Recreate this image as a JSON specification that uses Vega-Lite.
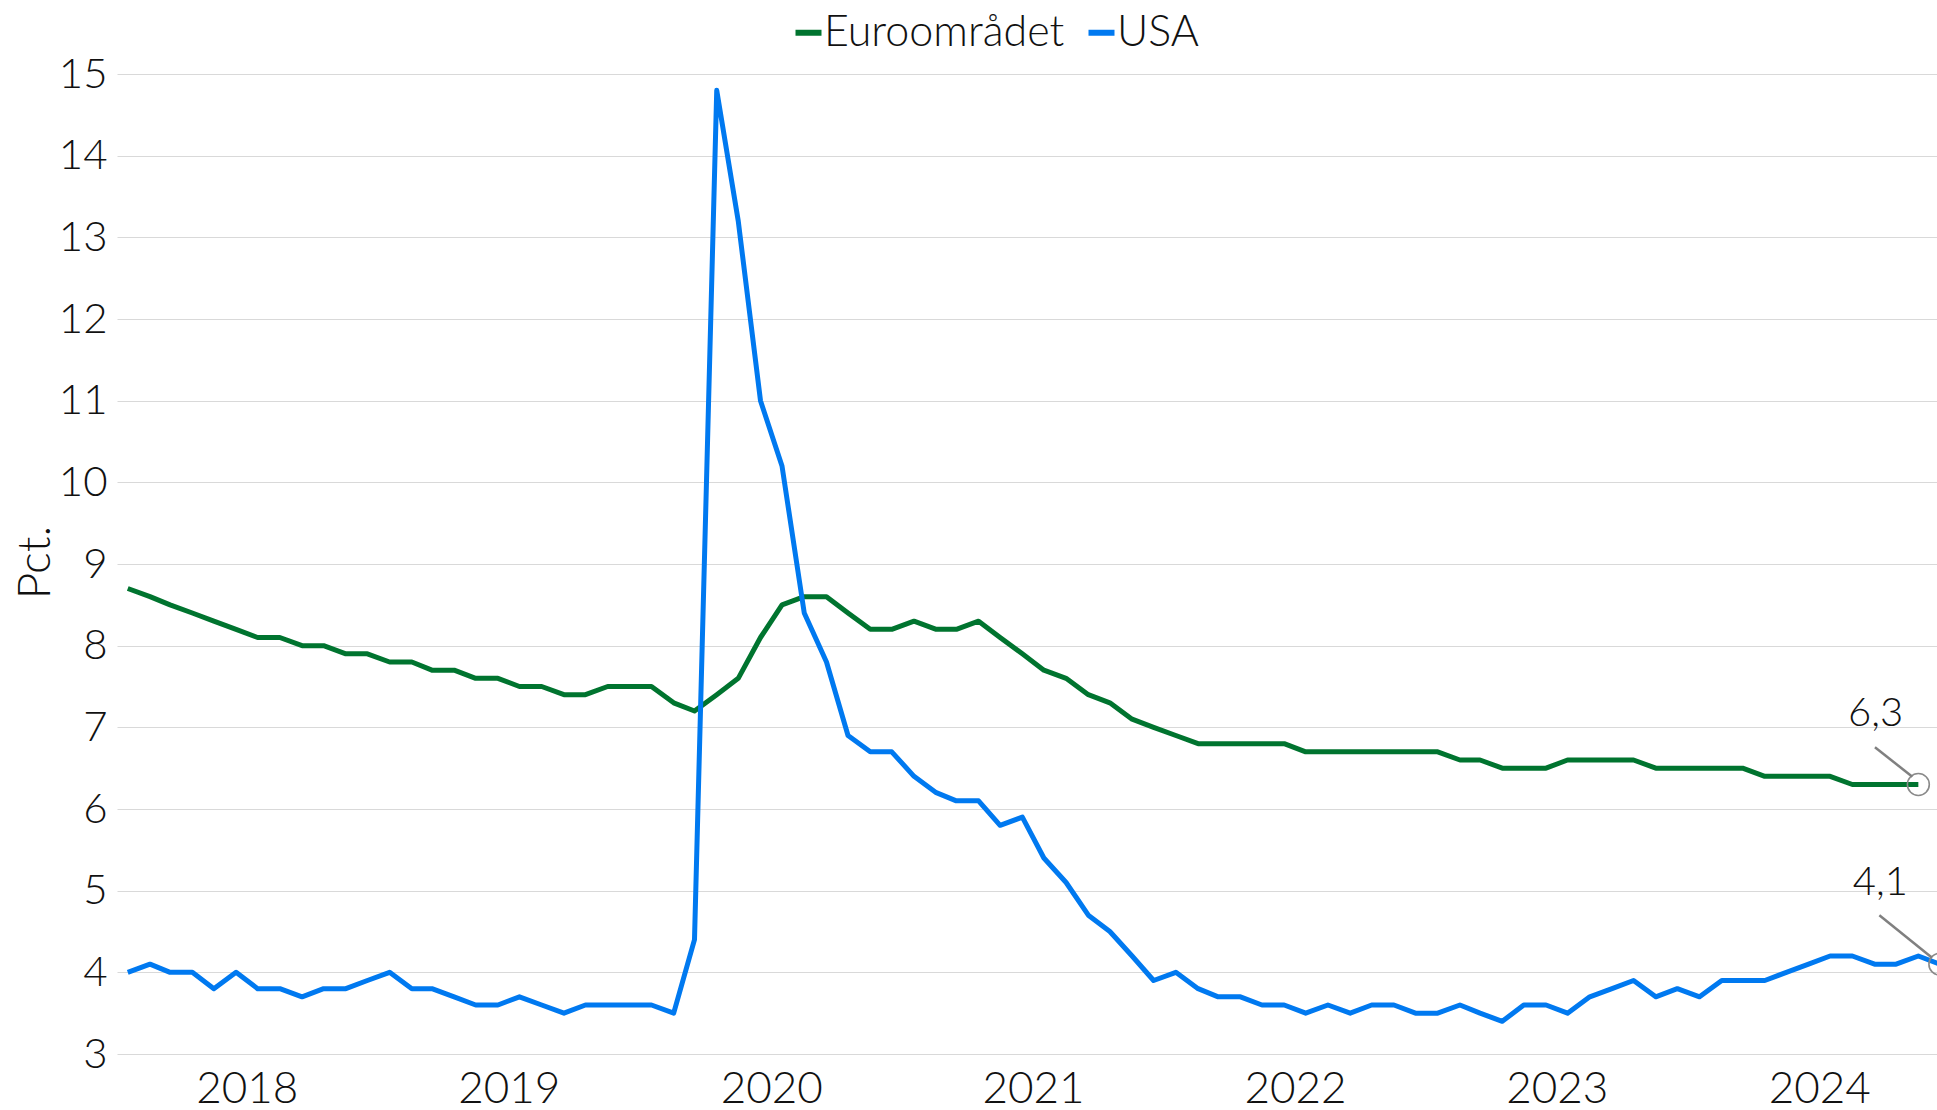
{
  "$schema": "https://vega.github.io/schema/vega-lite/v6.json",
  "autosize": {"type": "none"},
  "padding": {"left": 117, "top": 74, "right": 0, "bottom": 56},
  "width": 1820,
  "height": 980,
  "background": "white",
  "config": {
    "view": {"stroke": null},
    "font": "Lato",
    "locale": {"number": {"decimal": ",", "thousands": ".", "grouping": [3], "currency": ["", " kr."]}}
  },
  "datasets": {
    "rates": [
      {"date": "2018-01-01", "series": "Euroområdet", "value": 8.7},
      {"date": "2018-02-01", "series": "Euroområdet", "value": 8.6},
      {"date": "2018-03-01", "series": "Euroområdet", "value": 8.5},
      {"date": "2018-04-01", "series": "Euroområdet", "value": 8.4},
      {"date": "2018-05-01", "series": "Euroområdet", "value": 8.3},
      {"date": "2018-06-01", "series": "Euroområdet", "value": 8.2},
      {"date": "2018-07-01", "series": "Euroområdet", "value": 8.1},
      {"date": "2018-08-01", "series": "Euroområdet", "value": 8.1},
      {"date": "2018-09-01", "series": "Euroområdet", "value": 8.0},
      {"date": "2018-10-01", "series": "Euroområdet", "value": 8.0},
      {"date": "2018-11-01", "series": "Euroområdet", "value": 7.9},
      {"date": "2018-12-01", "series": "Euroområdet", "value": 7.9},
      {"date": "2019-01-01", "series": "Euroområdet", "value": 7.8},
      {"date": "2019-02-01", "series": "Euroområdet", "value": 7.8},
      {"date": "2019-03-01", "series": "Euroområdet", "value": 7.7},
      {"date": "2019-04-01", "series": "Euroområdet", "value": 7.7},
      {"date": "2019-05-01", "series": "Euroområdet", "value": 7.6},
      {"date": "2019-06-01", "series": "Euroområdet", "value": 7.6},
      {"date": "2019-07-01", "series": "Euroområdet", "value": 7.5},
      {"date": "2019-08-01", "series": "Euroområdet", "value": 7.5},
      {"date": "2019-09-01", "series": "Euroområdet", "value": 7.4},
      {"date": "2019-10-01", "series": "Euroområdet", "value": 7.4},
      {"date": "2019-11-01", "series": "Euroområdet", "value": 7.5},
      {"date": "2019-12-01", "series": "Euroområdet", "value": 7.5},
      {"date": "2020-01-01", "series": "Euroområdet", "value": 7.5},
      {"date": "2020-02-01", "series": "Euroområdet", "value": 7.3},
      {"date": "2020-03-01", "series": "Euroområdet", "value": 7.2},
      {"date": "2020-04-01", "series": "Euroområdet", "value": 7.4},
      {"date": "2020-05-01", "series": "Euroområdet", "value": 7.6},
      {"date": "2020-06-01", "series": "Euroområdet", "value": 8.1},
      {"date": "2020-07-01", "series": "Euroområdet", "value": 8.5},
      {"date": "2020-08-01", "series": "Euroområdet", "value": 8.6},
      {"date": "2020-09-01", "series": "Euroområdet", "value": 8.6},
      {"date": "2020-10-01", "series": "Euroområdet", "value": 8.4},
      {"date": "2020-11-01", "series": "Euroområdet", "value": 8.2},
      {"date": "2020-12-01", "series": "Euroområdet", "value": 8.2},
      {"date": "2021-01-01", "series": "Euroområdet", "value": 8.3},
      {"date": "2021-02-01", "series": "Euroområdet", "value": 8.2},
      {"date": "2021-03-01", "series": "Euroområdet", "value": 8.2},
      {"date": "2021-04-01", "series": "Euroområdet", "value": 8.3},
      {"date": "2021-05-01", "series": "Euroområdet", "value": 8.1},
      {"date": "2021-06-01", "series": "Euroområdet", "value": 7.9},
      {"date": "2021-07-01", "series": "Euroområdet", "value": 7.7},
      {"date": "2021-08-01", "series": "Euroområdet", "value": 7.6},
      {"date": "2021-09-01", "series": "Euroområdet", "value": 7.4},
      {"date": "2021-10-01", "series": "Euroområdet", "value": 7.3},
      {"date": "2021-11-01", "series": "Euroområdet", "value": 7.1},
      {"date": "2021-12-01", "series": "Euroområdet", "value": 7.0},
      {"date": "2022-01-01", "series": "Euroområdet", "value": 6.9},
      {"date": "2022-02-01", "series": "Euroområdet", "value": 6.8},
      {"date": "2022-03-01", "series": "Euroområdet", "value": 6.8},
      {"date": "2022-04-01", "series": "Euroområdet", "value": 6.8},
      {"date": "2022-05-01", "series": "Euroområdet", "value": 6.8},
      {"date": "2022-06-01", "series": "Euroområdet", "value": 6.8},
      {"date": "2022-07-01", "series": "Euroområdet", "value": 6.7},
      {"date": "2022-08-01", "series": "Euroområdet", "value": 6.7},
      {"date": "2022-09-01", "series": "Euroområdet", "value": 6.7},
      {"date": "2022-10-01", "series": "Euroområdet", "value": 6.7},
      {"date": "2022-11-01", "series": "Euroområdet", "value": 6.7},
      {"date": "2022-12-01", "series": "Euroområdet", "value": 6.7},
      {"date": "2023-01-01", "series": "Euroområdet", "value": 6.7},
      {"date": "2023-02-01", "series": "Euroområdet", "value": 6.6},
      {"date": "2023-03-01", "series": "Euroområdet", "value": 6.6},
      {"date": "2023-04-01", "series": "Euroområdet", "value": 6.5},
      {"date": "2023-05-01", "series": "Euroområdet", "value": 6.5},
      {"date": "2023-06-01", "series": "Euroområdet", "value": 6.5},
      {"date": "2023-07-01", "series": "Euroområdet", "value": 6.6},
      {"date": "2023-08-01", "series": "Euroområdet", "value": 6.6},
      {"date": "2023-09-01", "series": "Euroområdet", "value": 6.6},
      {"date": "2023-10-01", "series": "Euroområdet", "value": 6.6},
      {"date": "2023-11-01", "series": "Euroområdet", "value": 6.5},
      {"date": "2023-12-01", "series": "Euroområdet", "value": 6.5},
      {"date": "2024-01-01", "series": "Euroområdet", "value": 6.5},
      {"date": "2024-02-01", "series": "Euroområdet", "value": 6.5},
      {"date": "2024-03-01", "series": "Euroområdet", "value": 6.5},
      {"date": "2024-04-01", "series": "Euroområdet", "value": 6.4},
      {"date": "2024-05-01", "series": "Euroområdet", "value": 6.4},
      {"date": "2024-06-01", "series": "Euroområdet", "value": 6.4},
      {"date": "2024-07-01", "series": "Euroområdet", "value": 6.4},
      {"date": "2024-08-01", "series": "Euroområdet", "value": 6.3},
      {"date": "2024-09-01", "series": "Euroområdet", "value": 6.3},
      {"date": "2024-10-01", "series": "Euroområdet", "value": 6.3},
      {"date": "2024-11-01", "series": "Euroområdet", "value": 6.3},
      {"date": "2018-01-01", "series": "USA", "value": 4.0},
      {"date": "2018-02-01", "series": "USA", "value": 4.1},
      {"date": "2018-03-01", "series": "USA", "value": 4.0},
      {"date": "2018-04-01", "series": "USA", "value": 4.0},
      {"date": "2018-05-01", "series": "USA", "value": 3.8},
      {"date": "2018-06-01", "series": "USA", "value": 4.0},
      {"date": "2018-07-01", "series": "USA", "value": 3.8},
      {"date": "2018-08-01", "series": "USA", "value": 3.8},
      {"date": "2018-09-01", "series": "USA", "value": 3.7},
      {"date": "2018-10-01", "series": "USA", "value": 3.8},
      {"date": "2018-11-01", "series": "USA", "value": 3.8},
      {"date": "2018-12-01", "series": "USA", "value": 3.9},
      {"date": "2019-01-01", "series": "USA", "value": 4.0},
      {"date": "2019-02-01", "series": "USA", "value": 3.8},
      {"date": "2019-03-01", "series": "USA", "value": 3.8},
      {"date": "2019-04-01", "series": "USA", "value": 3.7},
      {"date": "2019-05-01", "series": "USA", "value": 3.6},
      {"date": "2019-06-01", "series": "USA", "value": 3.6},
      {"date": "2019-07-01", "series": "USA", "value": 3.7},
      {"date": "2019-08-01", "series": "USA", "value": 3.6},
      {"date": "2019-09-01", "series": "USA", "value": 3.5},
      {"date": "2019-10-01", "series": "USA", "value": 3.6},
      {"date": "2019-11-01", "series": "USA", "value": 3.6},
      {"date": "2019-12-01", "series": "USA", "value": 3.6},
      {"date": "2020-01-01", "series": "USA", "value": 3.6},
      {"date": "2020-02-01", "series": "USA", "value": 3.5},
      {"date": "2020-03-01", "series": "USA", "value": 4.4},
      {"date": "2020-04-01", "series": "USA", "value": 14.8},
      {"date": "2020-05-01", "series": "USA", "value": 13.2},
      {"date": "2020-06-01", "series": "USA", "value": 11.0},
      {"date": "2020-07-01", "series": "USA", "value": 10.2},
      {"date": "2020-08-01", "series": "USA", "value": 8.4},
      {"date": "2020-09-01", "series": "USA", "value": 7.8},
      {"date": "2020-10-01", "series": "USA", "value": 6.9},
      {"date": "2020-11-01", "series": "USA", "value": 6.7},
      {"date": "2020-12-01", "series": "USA", "value": 6.7},
      {"date": "2021-01-01", "series": "USA", "value": 6.4},
      {"date": "2021-02-01", "series": "USA", "value": 6.2},
      {"date": "2021-03-01", "series": "USA", "value": 6.1},
      {"date": "2021-04-01", "series": "USA", "value": 6.1},
      {"date": "2021-05-01", "series": "USA", "value": 5.8},
      {"date": "2021-06-01", "series": "USA", "value": 5.9},
      {"date": "2021-07-01", "series": "USA", "value": 5.4},
      {"date": "2021-08-01", "series": "USA", "value": 5.1},
      {"date": "2021-09-01", "series": "USA", "value": 4.7},
      {"date": "2021-10-01", "series": "USA", "value": 4.5},
      {"date": "2021-11-01", "series": "USA", "value": 4.2},
      {"date": "2021-12-01", "series": "USA", "value": 3.9},
      {"date": "2022-01-01", "series": "USA", "value": 4.0},
      {"date": "2022-02-01", "series": "USA", "value": 3.8},
      {"date": "2022-03-01", "series": "USA", "value": 3.7},
      {"date": "2022-04-01", "series": "USA", "value": 3.7},
      {"date": "2022-05-01", "series": "USA", "value": 3.6},
      {"date": "2022-06-01", "series": "USA", "value": 3.6},
      {"date": "2022-07-01", "series": "USA", "value": 3.5},
      {"date": "2022-08-01", "series": "USA", "value": 3.6},
      {"date": "2022-09-01", "series": "USA", "value": 3.5},
      {"date": "2022-10-01", "series": "USA", "value": 3.6},
      {"date": "2022-11-01", "series": "USA", "value": 3.6},
      {"date": "2022-12-01", "series": "USA", "value": 3.5},
      {"date": "2023-01-01", "series": "USA", "value": 3.5},
      {"date": "2023-02-01", "series": "USA", "value": 3.6},
      {"date": "2023-03-01", "series": "USA", "value": 3.5},
      {"date": "2023-04-01", "series": "USA", "value": 3.4},
      {"date": "2023-05-01", "series": "USA", "value": 3.6},
      {"date": "2023-06-01", "series": "USA", "value": 3.6},
      {"date": "2023-07-01", "series": "USA", "value": 3.5},
      {"date": "2023-08-01", "series": "USA", "value": 3.7},
      {"date": "2023-09-01", "series": "USA", "value": 3.8},
      {"date": "2023-10-01", "series": "USA", "value": 3.9},
      {"date": "2023-11-01", "series": "USA", "value": 3.7},
      {"date": "2023-12-01", "series": "USA", "value": 3.8},
      {"date": "2024-01-01", "series": "USA", "value": 3.7},
      {"date": "2024-02-01", "series": "USA", "value": 3.9},
      {"date": "2024-03-01", "series": "USA", "value": 3.9},
      {"date": "2024-04-01", "series": "USA", "value": 3.9},
      {"date": "2024-05-01", "series": "USA", "value": 4.0},
      {"date": "2024-06-01", "series": "USA", "value": 4.1},
      {"date": "2024-07-01", "series": "USA", "value": 4.2},
      {"date": "2024-08-01", "series": "USA", "value": 4.2},
      {"date": "2024-09-01", "series": "USA", "value": 4.1},
      {"date": "2024-10-01", "series": "USA", "value": 4.1},
      {"date": "2024-11-01", "series": "USA", "value": 4.2},
      {"date": "2024-12-01", "series": "USA", "value": 4.1}
    ]
  },
  "data": {"name": "rates"},
  "encoding": {
    "x": {
      "field": "date",
      "type": "temporal",
      "scale": {
        "domain": [
          {"year": 2017, "month": 12, "date": 17, "utc": true},
          {"year": 2024, "month": 11, "date": 27, "utc": true}
        ]
      },
      "axis": {
        "title": null,
        "values": [
          {"year": 2018, "month": 6, "date": 16, "utc": true},
          {"year": 2019, "month": 6, "date": 16, "utc": true},
          {"year": 2020, "month": 6, "date": 16, "utc": true},
          {"year": 2021, "month": 6, "date": 16, "utc": true},
          {"year": 2022, "month": 6, "date": 16, "utc": true},
          {"year": 2023, "month": 6, "date": 16, "utc": true},
          {"year": 2024, "month": 6, "date": 16, "utc": true}
        ],
        "format": "%Y",
        "grid": false,
        "domain": false,
        "ticks": false,
        "tickSize": 0,
        "labelFont": "Lato",
        "labelFontWeight": 300,
        "labelFontSize": 44,
        "labelColor": "#111111",
        "labelBaseline": "alphabetic",
        "labelPadding": 48,
        "labelAlign": "center",
        "labelFlush": false,
        "labelOverlap": false
      }
    },
    "y": {
      "field": "value",
      "type": "quantitative",
      "scale": {"domain": [3, 15], "nice": false, "zero": false},
      "axis": {
        "title": "Pct.",
        "values": [3, 4, 5, 6, 7, 8, 9, 10, 11, 12, 13, 14, 15],
        "format": "d",
        "grid": true,
        "gridColor": "#d9d9d9",
        "gridWidth": 1.2,
        "domain": false,
        "ticks": false,
        "tickSize": 0,
        "labelFont": "Lato",
        "labelFontWeight": 300,
        "labelFontSize": 42,
        "labelColor": "#111111",
        "labelPadding": 10,
        "titleFont": "Lato",
        "titleFontWeight": 300,
        "titleFontSize": 46,
        "titleColor": "#111111",
        "titleAngle": -90,
        "titleX": -82,
        "titleY": 488,
        "titleAlign": "center",
        "titleBaseline": "middle"
      }
    }
  },
  "layer": [
    {
      "mark": {"type": "line", "strokeWidth": 5, "strokeJoin": "round"},
      "encoding": {
        "color": {
          "field": "series",
          "type": "nominal",
          "scale": {"domain": ["Euroområdet", "USA"], "range": ["#00742F", "#0079F0"]},
          "legend": {
            "title": null,
            "orient": "none",
            "legendX": 670,
            "legendY": -63,
            "direction": "horizontal",
            "padding": 0,
            "symbolType": "stroke",
            "symbolStrokeWidth": 6,
            "symbolSize": 676,
            "labelFont": "Lato",
            "labelFontWeight": 300,
            "labelFontSize": 43,
            "labelColor": "#111111",
            "labelLimit": 0,
            "labelOffset": -6,
            "columnPadding": 11
          }
        }
      }
    },
    {
      "transform": [
        {"joinaggregate": [{"op": "max", "field": "date", "as": "last"}], "groupby": ["series"]},
        {"filter": "time(datum.date) == time(datum.last)"}
      ],
      "mark": {"type": "point", "shape": "circle", "filled": false, "stroke": "#8a8a8a", "strokeWidth": 1.6, "size": 480, "opacity": 1},
      "encoding": {}
    },
    {
      "transform": [
        {"joinaggregate": [{"op": "max", "field": "date", "as": "last"}], "groupby": ["series"]},
        {"filter": "time(datum.date) == time(datum.last) && datum.series == 'Euroområdet'"}
      ],
      "mark": {"type": "rule", "stroke": "#808080", "strokeWidth": 2.5, "xOffset": -6, "yOffset": -7.8, "x2Offset": -43.4, "y2Offset": -37.2},
      "encoding": {
        "x2": {"field": "date"},
        "y2": {"field": "value"}
      }
    },
    {
      "transform": [
        {"joinaggregate": [{"op": "max", "field": "date", "as": "last"}], "groupby": ["series"]},
        {"filter": "time(datum.date) == time(datum.last) && datum.series == 'USA'"}
      ],
      "mark": {"type": "rule", "stroke": "#808080", "strokeWidth": 2.5, "xOffset": -7.8, "yOffset": -6.5, "x2Offset": -60.5, "y2Offset": -49},
      "encoding": {
        "x2": {"field": "date"},
        "y2": {"field": "value"}
      }
    },
    {
      "transform": [
        {"joinaggregate": [{"op": "max", "field": "date", "as": "last"}], "groupby": ["series"]},
        {"filter": "time(datum.date) == time(datum.last) && datum.series == 'Euroområdet'"}
      ],
      "mark": {"type": "text", "dx": -42.7, "dy": -70.5, "align": "center", "baseline": "middle", "font": "Lato", "fontWeight": 300, "fontSize": 40, "color": "#111111"},
      "encoding": {
        "text": {"field": "value", "type": "quantitative", "format": ".1f"}
      }
    },
    {
      "transform": [
        {"joinaggregate": [{"op": "max", "field": "date", "as": "last"}], "groupby": ["series"]},
        {"filter": "time(datum.date) == time(datum.last) && datum.series == 'USA'"}
      ],
      "mark": {"type": "text", "dx": -59.5, "dy": -81.5, "align": "center", "baseline": "middle", "font": "Lato", "fontWeight": 300, "fontSize": 40, "color": "#111111"},
      "encoding": {
        "text": {"field": "value", "type": "quantitative", "format": ".1f"}
      }
    }
  ]
}
